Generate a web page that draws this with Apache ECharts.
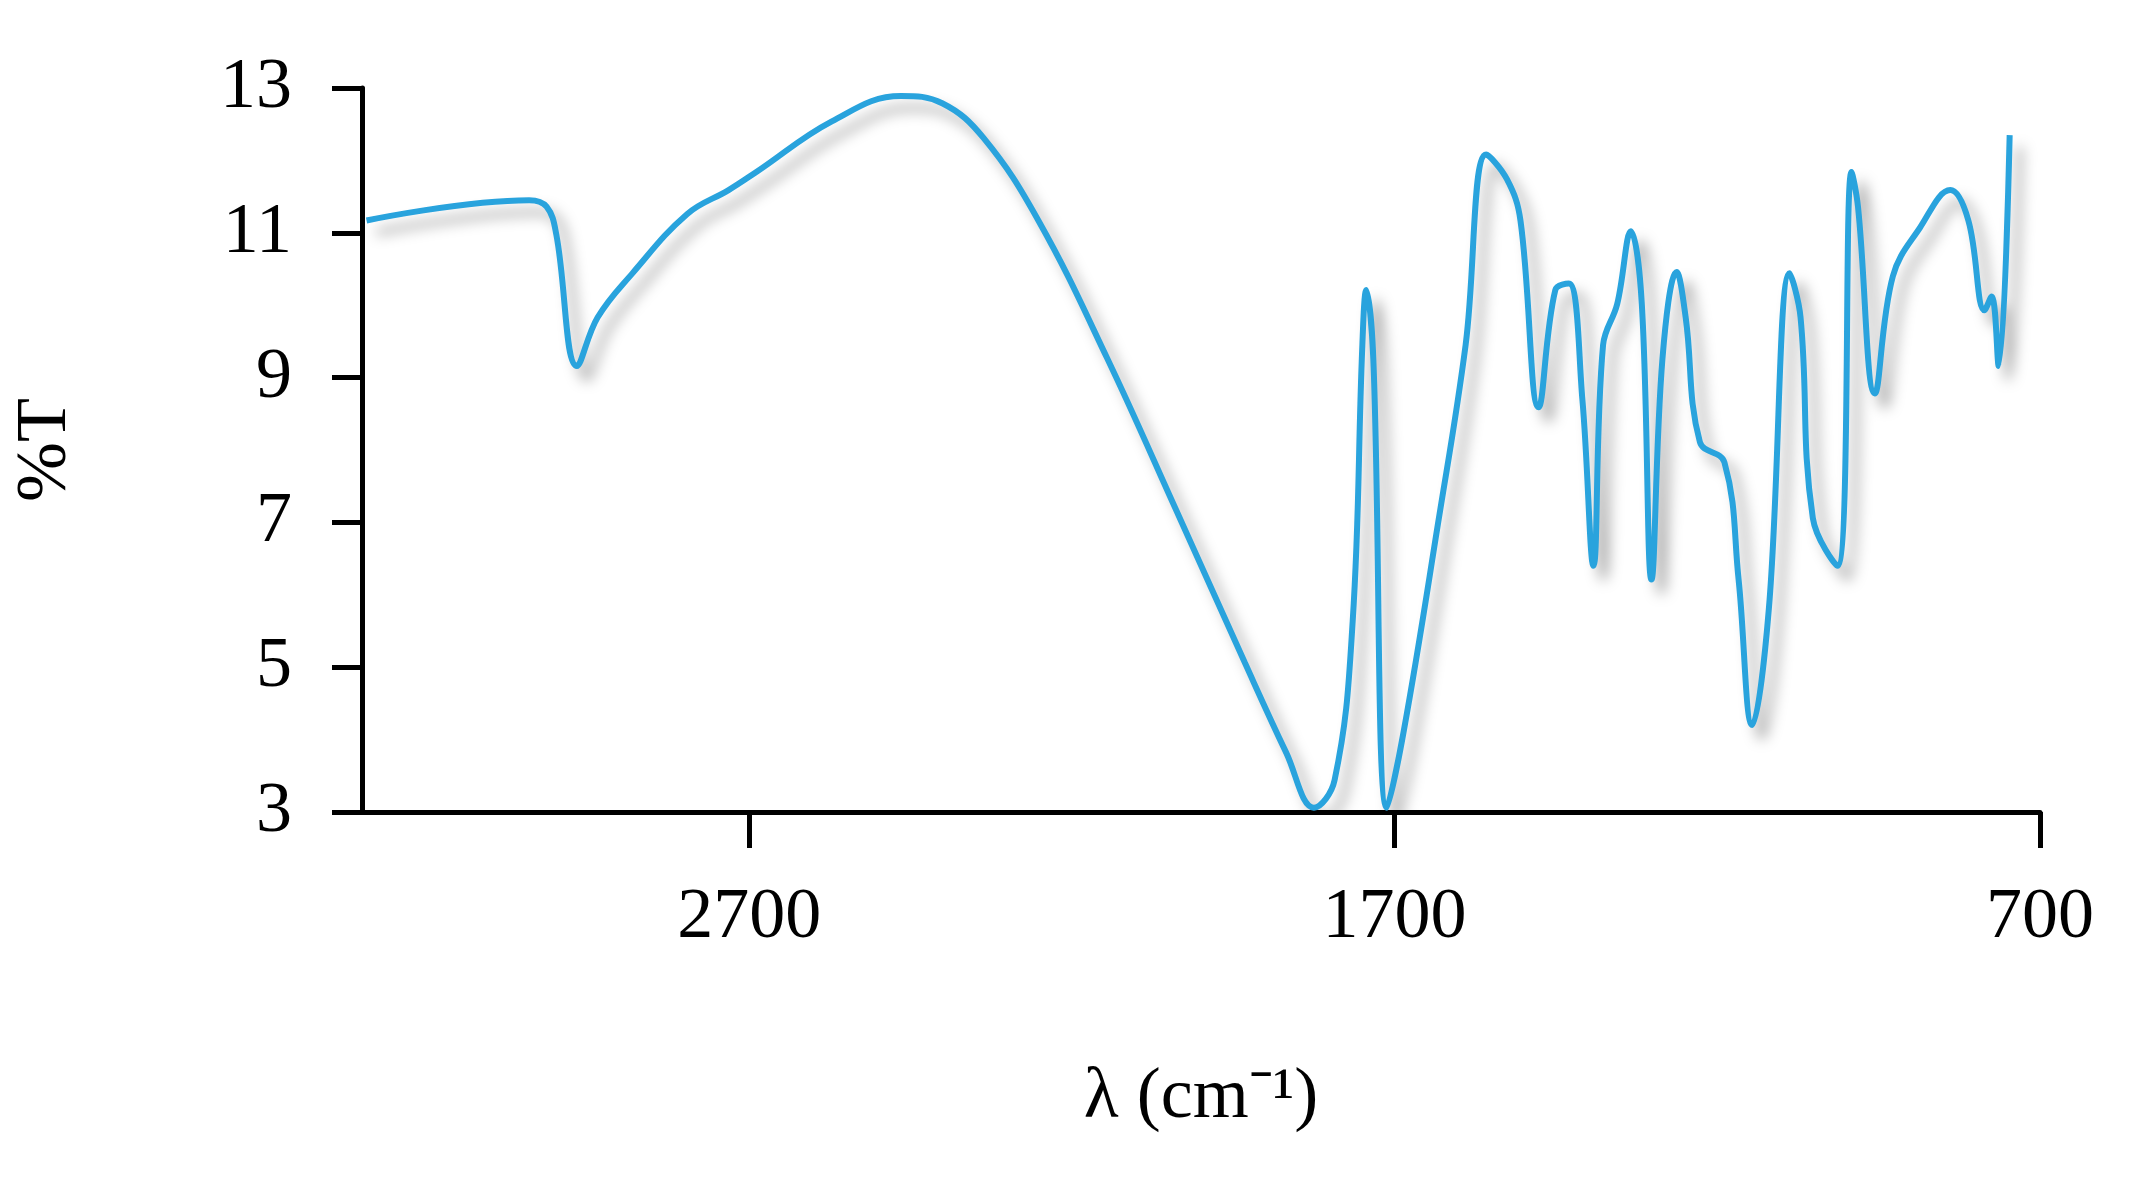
<!DOCTYPE html>
<html><head><meta charset="utf-8">
<script src="https://cdn.jsdelivr.net/npm/echarts@6/dist/echarts.min.js"></script>
<style>html,body{margin:0;padding:0;background:#fff}#c{width:2139px;height:1190px}</style>
</head><body><div id="c"></div>
<script>
const wavenumbers = [3293,3041,3014,2999,2967,2935,2881,2796,2732,2689,2572,2465,2401,2337,2252,2145,2038,1932,1868,1825,1793,1765,1750,1744,1733,1712,1686,1633,1590,1558,1526,1505,1477,1451,1430,1409,1392,1377,1355,1334,1317,1302,1285,1263,1249,1227,1189,1167,1146,1120,1088,1071,1052,1014,992,982,956,928,886,839,811,786,775,764,747];
const transmittance = [11.17,11.45,11.36,10.98,9.16,9.83,10.44,11.26,11.59,11.84,12.54,12.89,12.79,12.31,11.17,9.26,7.16,5.06,3.82,3.06,3.44,5.63,9.45,10.21,9.26,3.06,4.11,6.97,9.45,12.08,11.74,11.17,8.59,10.21,10.30,8.69,6.40,9.45,10.02,11.02,10.02,6.21,9.26,10.46,9.83,8.11,7.83,6.21,4.20,5.82,10.44,9.83,7.06,6.40,11.84,11.36,8.78,10.40,11.07,11.59,11.17,9.93,10.12,9.16,12.35];
const yTicks = [3,5,7,9,11,13];
const font = 'Liberation Serif';
const chart = echarts.init(document.getElementById('c'));
chart.setOption({
  animation:false,
  grid:{left:362,right:99,top:88,bottom:378},
  xAxis:{type:'value',inverse:true,min:700,max:3300,interval:1000,
    name:'λ (cm⁻¹)',nameLocation:'middle',nameGap:250,
    nameTextStyle:{fontFamily:font,fontSize:72,color:'#000'},
    axisLine:{lineStyle:{color:'#000',width:5}},
    axisTick:{length:36,lineStyle:{color:'#000',width:5}},
    axisLabel:{fontFamily:font,fontSize:72,color:'#000',margin:70,showMinLabel:true,showMaxLabel:false,
      formatter:v=>v%1000===700?String(v):''},
    splitLine:{show:false}},
  yAxis:{type:'value',min:3,max:13,interval:2,
    name:'%T',nameLocation:'middle',nameGap:280,nameRotate:90,
    nameTextStyle:{fontFamily:font,fontSize:72,color:'#000'},
    axisLine:{show:true,lineStyle:{color:'#000',width:5}},
    axisTick:{show:true,length:30,lineStyle:{color:'#000',width:5}},
    axisLabel:{fontFamily:font,fontSize:72,color:'#000',margin:70,
      formatter:v=>yTicks.includes(v)?String(v):''},
    splitLine:{show:false}},
  series:[{type:'line',smooth:0.4,showSymbol:false,
    data:wavenumbers.map((w,i)=>[w,transmittance[i]]),
    lineStyle:{color:'#29a3dd',width:6,shadowColor:'rgba(0,0,0,0.35)',shadowBlur:14,shadowOffsetX:10,shadowOffsetY:12}}]
});
</script></body></html>
